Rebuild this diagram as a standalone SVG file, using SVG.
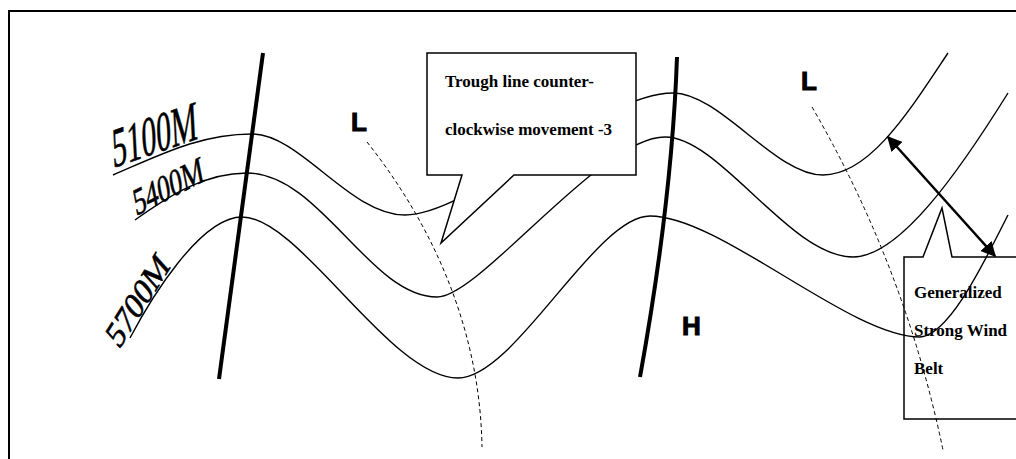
<svg xmlns="http://www.w3.org/2000/svg" width="1016" height="459" viewBox="0 0 1016 459">
<style>
.frame{fill:none;stroke:#000;stroke-width:2}
.contour{fill:none;stroke:#000;stroke-width:1.4}
.axis{fill:none;stroke:#000;stroke-width:4}
.dash{fill:none;stroke:#000;stroke-width:1;stroke-dasharray:4 3}
.lbl{font-family:"Liberation Serif","Times New Roman",serif;fill:#000;stroke:#000;stroke-width:0.6}
.sym{font-family:"Liberation Sans",Arial,sans-serif;font-weight:bold;font-size:26px;fill:#000;stroke:#000;stroke-width:1}
.note{font-family:"Liberation Serif","Times New Roman",serif;font-weight:bold;font-size:17px;fill:#000}
.box{stroke:#000;stroke-width:1.5}
</style>
<defs>
<marker id="ah" viewBox="0 0 10 10" refX="9" refY="5" markerWidth="6" markerHeight="6" orient="auto-start-reverse" markerUnits="strokeWidth">
<path d="M0,0 L10,5 L0,10 z" fill="#000"/>
</marker>
</defs>
<rect width="1016" height="459" fill="#fff"/>
<path class="frame" d="M9,459 V11 H1016"/>
<g id="connectors">
<path id="c5100" class="contour" d="M113,175 C160,155 200,134 252,134 C300,134 350,215 405,215 C470,215 600,93 673,93 C720,93 775,175 823,175 C870,175 910,110 948,53"/>
<path id="c5400" class="contour" d="M135,220 C170,195 205,173 247,173 C320,173 370,297 437,297 C480,297 600,137 665,137 C720,137 790,257 853,257 C900,257 960,170 1008,93"/>
<path id="c5700" class="contour" d="M130,338 C150,300 200,217 242,217 C300,217 390,378 458,378 C515,378 595,216 650,216 C720,216 850,337 920,337 C950,335 985,260 1008,215"/>
<path id="troughA" class="axis" d="M263,53 L219,379"/>
<path id="ridgeB" class="axis" d="M677,57 Q672,200 640,377"/>
<path id="dash1" class="dash" d="M367,142 C425,215 480,320 482,447"/>
<path id="dash2" class="dash" d="M812,107 Q905,267 943,450"/>
<path id="windArrow" d="M888,137 L995,256" stroke="#000" stroke-width="2.5" marker-start="url(#ah)" marker-end="url(#ah)"/>
</g>
<g id="label5100"><text class="lbl" font-size="54" transform="translate(113,168) rotate(-19) skewX(-16)" textLength="90" lengthAdjust="spacingAndGlyphs">5100M</text></g>
<g id="label5400"><text class="lbl" font-size="36" transform="translate(136,216) rotate(-27) skewX(-16)" textLength="78" lengthAdjust="spacingAndGlyphs">5400M</text></g>
<g id="label5700"><text class="lbl" font-size="32" transform="translate(119,350) rotate(-58) skewX(-16)" textLength="98" lengthAdjust="spacingAndGlyphs">5700M</text></g>
<g id="L1"><text class="sym" x="351" y="131">L</text></g>
<g id="L2"><text class="sym" x="801" y="90">L</text></g>
<g id="H"><text class="sym" x="682" y="335">H</text></g>
<g id="callout1">
<path class="box" fill="#fff" d="M427,53 H636 V175 H514 L441,243 L462,175 H427 Z"/>
<text class="note" x="445" y="87">Trough line counter-</text>
<text class="note" x="445" y="135">clockwise movement -3</text>
</g>
<g id="callout2">
<path class="box" fill="none" d="M1017,257 H952 L942,208 L923,257 H904 V419 H1017"/>
<text class="note" x="914" y="298">Generalized</text>
<text class="note" x="914" y="336">Strong Wind</text>
<text class="note" x="914" y="374">Belt</text>
</g>
</svg>
